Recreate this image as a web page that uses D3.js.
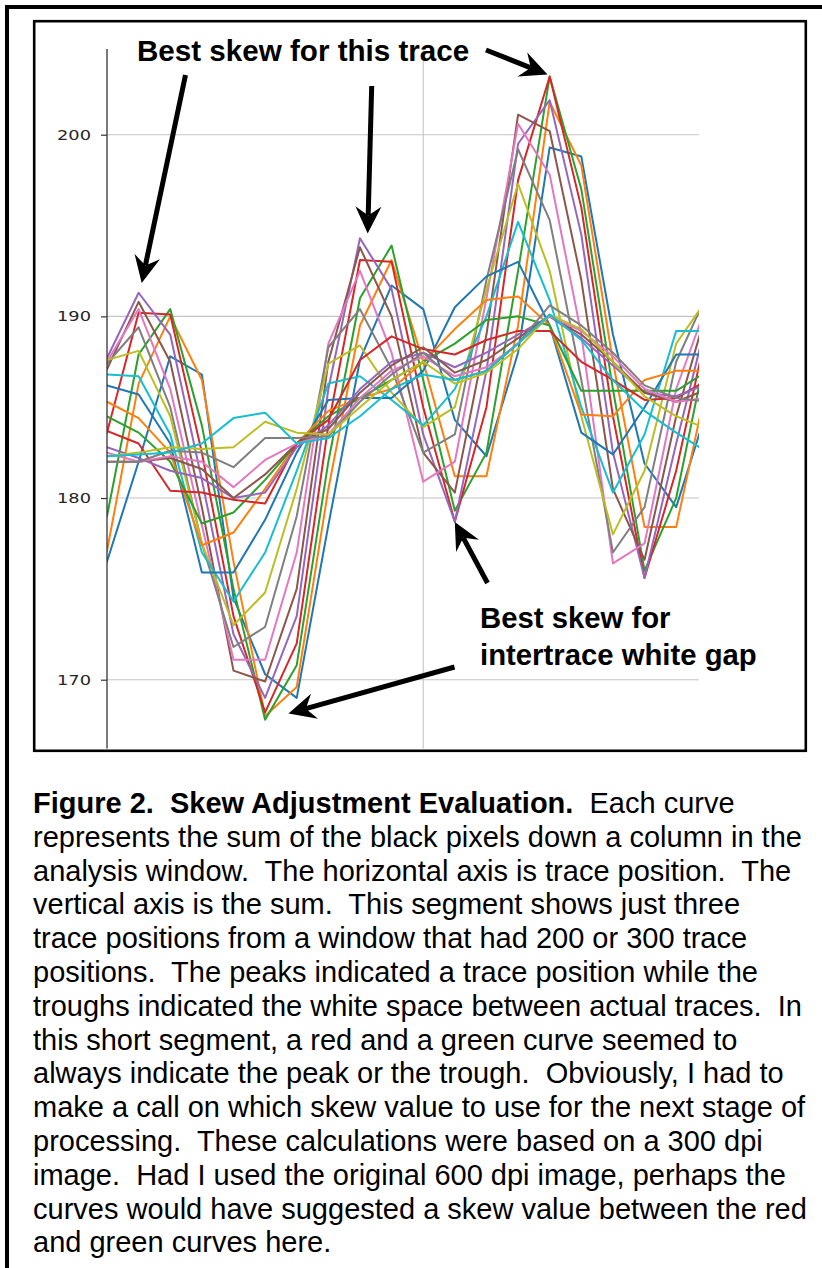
<!DOCTYPE html>
<html>
<head>
<meta charset="utf-8">
<script src="https://cdn.jsdelivr.net/npm/d3@7"></script>
<style>
  html, body { margin: 0; padding: 0; background: #fff; }
  svg { display: block; }
</style>
</head>
<body>
<svg id="fig" width="822" height="1268"></svg>
<script>
// Trace positions along the horizontal axis (one sample per column step)
const positions = [0, 1, 2, 3, 4, 5, 6, 7, 8, 9, 10, 11, 12, 13, 14, 15, 16, 17, 18, 19];

// Column sums, one curve per skew value
const skew00 = [176.5, 182.0, 187.8, 186.8, 174.5, 170.3, 169.0, 178.5, 187.6, 191.7, 190.4, 184.3, 182.3, 188.0, 199.3, 198.8, 189.0, 181.9, 179.5, 185.0];
const skew01 = [177.1, 186.3, 190.0, 186.5, 176.5, 168.0, 169.6, 180.5, 189.5, 193.1, 187.5, 181.2, 181.2, 189.5, 201.8, 198.3, 187.5, 178.4, 178.4, 186.5];
const skew02 = [179.0, 187.9, 190.4, 184.0, 175.0, 167.8, 170.8, 182.0, 191.0, 193.9, 186.5, 179.3, 182.5, 192.5, 203.2, 197.0, 186.0, 176.0, 180.0, 188.5];
const skew03 = [183.6, 190.2, 190.1, 182.5, 173.5, 168.2, 172.0, 184.0, 193.1, 193.0, 185.0, 178.7, 185.0, 197.5, 203.2, 196.0, 184.5, 175.6, 181.5, 189.5];
const skew04 = [187.7, 191.3, 189.0, 181.0, 172.5, 169.0, 173.5, 186.0, 194.3, 191.5, 183.5, 178.7, 187.0, 199.5, 201.9, 194.5, 182.5, 175.6, 183.0, 190.0];
const skew05 = [187.1, 190.8, 187.5, 179.5, 170.5, 169.9, 175.0, 187.5, 193.8, 190.0, 182.5, 180.3, 189.0, 201.1, 200.2, 192.0, 180.5, 176.6, 184.5, 190.5];
const skew06 = [187.5, 190.4, 186.0, 178.5, 171.1, 171.1, 177.0, 188.5, 192.5, 188.0, 180.9, 182.0, 191.0, 200.6, 197.8, 189.0, 176.4, 177.5, 186.0, 190.8];
const skew07 = [187.4, 189.4, 185.0, 177.5, 171.8, 172.9, 179.0, 188.3, 190.4, 187.1, 182.5, 183.5, 192.0, 199.2, 195.3, 186.5, 177.0, 179.5, 187.5, 191.3];
const skew08 = [187.6, 188.1, 184.5, 177.5, 173.0, 174.8, 180.5, 187.4, 188.4, 185.8, 183.9, 185.0, 191.5, 197.3, 192.5, 184.5, 178.0, 181.5, 188.5, 191.0];
const skew09 = [186.8, 186.7, 183.5, 177.0, 174.3, 177.0, 181.5, 186.3, 186.7, 185.4, 184.0, 186.0, 190.0, 195.2, 190.9, 185.0, 180.3, 183.5, 189.2, 189.2];
const skew10 = [186.2, 185.7, 183.0, 175.9, 175.9, 178.8, 182.5, 185.4, 185.5, 185.5, 187.0, 190.5, 192.2, 193.0, 189.5, 183.6, 182.4, 185.0, 187.9, 187.9];
const skew11 = [185.3, 184.4, 182.5, 177.4, 178.1, 180.5, 183.0, 184.8, 185.5, 186.0, 187.5, 189.3, 190.9, 191.1, 189.5, 184.6, 184.5, 186.5, 187.0, 187.0];
const skew12 = [184.5, 183.6, 182.0, 178.6, 179.2, 181.0, 183.0, 184.5, 185.5, 186.5, 187.5, 188.5, 189.8, 190.0, 189.5, 185.9, 185.9, 185.9, 185.9, 187.0];
const skew13 = [183.7, 183.0, 180.4, 180.3, 179.9, 179.7, 183.0, 184.3, 187.6, 188.9, 188.2, 187.9, 188.7, 189.2, 189.2, 187.5, 186.5, 185.4, 185.5, 186.5];
const skew14 = [182.8, 182.2, 181.5, 181.1, 180.0, 180.3, 182.8, 184.0, 186.0, 187.5, 188.0, 187.2, 188.0, 189.0, 190.0, 188.8, 187.3, 185.8, 185.6, 186.3];
const skew15 = [182.0, 182.0, 182.2, 181.6, 180.0, 181.3, 183.0, 183.8, 185.8, 187.3, 188.3, 186.9, 187.6, 188.8, 190.0, 189.0, 187.5, 185.8, 185.3, 186.0];
const skew16 = [182.5, 182.0, 182.3, 182.0, 180.6, 182.1, 183.0, 183.5, 185.5, 187.0, 187.8, 186.7, 187.2, 188.5, 190.0, 189.2, 187.8, 186.0, 185.3, 185.5];
const skew17 = [182.0, 182.0, 182.6, 182.5, 181.7, 183.3, 183.3, 183.4, 185.3, 186.8, 188.0, 186.5, 187.0, 188.5, 190.6, 189.5, 188.0, 186.2, 185.5, 185.3];
const skew18 = [182.3, 182.5, 182.8, 182.7, 182.8, 184.2, 183.6, 183.5, 185.0, 186.5, 187.5, 186.3, 186.9, 188.2, 190.1, 189.3, 187.5, 185.6, 184.5, 183.8];
const skew19 = [182.3, 182.4, 182.5, 183.0, 184.4, 184.7, 183.0, 183.3, 184.5, 186.0, 186.8, 186.5, 187.0, 188.5, 190.1, 188.7, 186.5, 184.8, 183.6, 182.5];

const curves = [skew00, skew01, skew02, skew03, skew04, skew05, skew06, skew07, skew08, skew09,
                skew10, skew11, skew12, skew13, skew14, skew15, skew16, skew17, skew18, skew19];

// Axis ticks and the single vertical grid position
const yTicks = [170, 180, 190, 200];
const xGridAt = [10];

// Annotation text and caption
const calloutTop = "Best skew for this trace";
const calloutGap = ["Best skew for", "intertrace white gap"];
const captionBold = "Figure 2.  Skew Adjustment Evaluation.";
const captionLines = [
  "  Each curve",
  "represents the sum of the black pixels down a column in the",
  "analysis window.  The horizontal axis is trace position.  The",
  "vertical axis is the sum.  This segment shows just three",
  "trace positions from a window that had 200 or 300 trace",
  "positions.  The peaks indicated a trace position while the",
  "troughs indicated the white space between actual traces.  In",
  "this short segment, a red and a green curve seemed to",
  "always indicate the peak or the trough.  Obviously, I had to",
  "make a call on which skew value to use for the next stage of",
  "processing.  These calculations were based on a 300 dpi",
  "image.  Had I used the original 600 dpi image, perhaps the",
  "curves would have suggested a skew value between the red",
  "and green curves here."
];
// keep the typed double spaces after sentences
const keepSpaces = s => s.replace(/ {2}/g, "\u00a0 ").replace(/^ /, "\u00a0");

const svg = d3.select("#fig");
const palette = d3.schemeCategory10;

// Plot geometry
const plot = { left: 107, right: 699, top: 49, bottom: 750 };
const x = d3.scaleLinear().domain([0, 19]).range([107, 707.8]);
const y = d3.scaleLinear().domain([170, 200]).range([679.7, 134.7]);

// Outer page frame (top and left) and the chart box
svg.append("path")
  .attr("d", "M7,1268 V7 H822")
  .attr("fill", "none").attr("stroke", "#000").attr("stroke-width", 4);
svg.append("rect")
  .attr("x", 34.2).attr("y", 21.2).attr("width", 771.6).attr("height", 729.6)
  .attr("fill", "#fff").attr("stroke", "#000").attr("stroke-width", 2.6);

svg.append("defs").append("clipPath").attr("id", "plotClip")
  .append("rect")
  .attr("x", plot.left).attr("y", plot.top)
  .attr("width", plot.right - plot.left).attr("height", plot.bottom - plot.top - 1.5);

// Grid
const grid = svg.append("g").attr("stroke", "#c4c4c4").attr("stroke-width", 1.1);
grid.selectAll("line.h").data(yTicks).join("line").attr("class", "h")
  .attr("x1", plot.left).attr("x2", plot.right)
  .attr("y1", d => y(d)).attr("y2", d => y(d));
grid.selectAll("line.v").data(xGridAt).join("line").attr("class", "v")
  .attr("x1", d => x(d)).attr("x2", d => x(d))
  .attr("y1", plot.top).attr("y2", plot.bottom - 1.5);

// Curves
const line = d3.line().x((d, i) => x(positions[i])).y(d => y(d));
svg.append("g").attr("clip-path", "url(#plotClip)")
  .selectAll("path").data(curves).join("path")
  .attr("d", line)
  .attr("fill", "none")
  .attr("stroke", (d, i) => palette[i % 10])
  .attr("stroke-width", 2)
  .attr("stroke-linejoin", "round")
  .attr("stroke-linecap", "square");

// Left axis
const yAxis = d3.axisLeft(y).tickValues(yTicks).tickSize(6).tickPadding(10).tickSizeOuter(0);
const ag = svg.append("g").attr("transform", `translate(${plot.left},0)`).call(yAxis);
ag.select(".domain").remove();
ag.selectAll(".tick line").attr("stroke", "#333").attr("stroke-width", 1.2);
ag.selectAll(".tick text")
  .attr("fill", "#262626")
  .attr("font-family", "DejaVu Sans, sans-serif")
  .attr("font-size", 13.5)
  .attr("textLength", 34).attr("lengthAdjust", "spacingAndGlyphs");
svg.append("line")
  .attr("x1", plot.left).attr("x2", plot.left)
  .attr("y1", plot.top).attr("y2", plot.bottom - 1.5)
  .attr("stroke", "#333").attr("stroke-width", 1.3);

// Callout arrows: shaft plus a swept arrowhead ending at the tip
function arrow(x0, y0, x1, y1) {
  const dx = x1 - x0, dy = y1 - y0, len = Math.hypot(dx, dy);
  const ux = dx / len, uy = dy / len, nx = -uy, ny = ux;
  const L = 27, W = 13, notch = 18;
  const bx = x1 - ux * L, by = y1 - uy * L;
  const mx = x1 - ux * notch, my = y1 - uy * notch;
  svg.append("line")
    .attr("x1", x0).attr("y1", y0).attr("x2", mx).attr("y2", my)
    .attr("stroke", "#000").attr("stroke-width", 5);
  svg.append("path")
    .attr("d", `M${x1},${y1} L${bx + nx * W},${by + ny * W} L${mx},${my} L${bx - nx * W},${by - ny * W} Z`)
    .attr("fill", "#000");
}
arrow(185.5, 75, 141.7, 283);
arrow(371.7, 86, 367.7, 233.5);
arrow(486, 50, 547.5, 74.5);
arrow(487.5, 583, 454.8, 522);
arrow(454.5, 667, 288.5, 713.5);

const sansFont = "Liberation Sans, Arial, Helvetica, sans-serif";
svg.append("text").text(calloutTop)
  .attr("x", 137).attr("y", 61)
  .attr("font-family", sansFont).attr("font-weight", "bold").attr("font-size", 29.6)
  .attr("fill", "#000");
calloutGap.forEach((t, i) => {
  svg.append("text").text(t)
    .attr("x", 480).attr("y", 628 + i * 37)
    .attr("font-family", sansFont).attr("font-weight", "bold").attr("font-size", 29.3)
    .attr("fill", "#000");
});

// Caption
const cap = svg.append("g")
  .attr("font-family", sansFont).attr("font-size", 29).attr("fill", "#000");
const first = cap.append("text").attr("x", 33).attr("y", 813);
first.append("tspan").attr("font-weight", "bold").text(keepSpaces(captionBold));
first.append("tspan").text(keepSpaces(captionLines[0]));
captionLines.slice(1).forEach((t, i) => {
  cap.append("text").attr("x", 33).attr("y", 813 + (i + 1) * 33.8).text(keepSpaces(t));
});
</script>
</body>
</html>
